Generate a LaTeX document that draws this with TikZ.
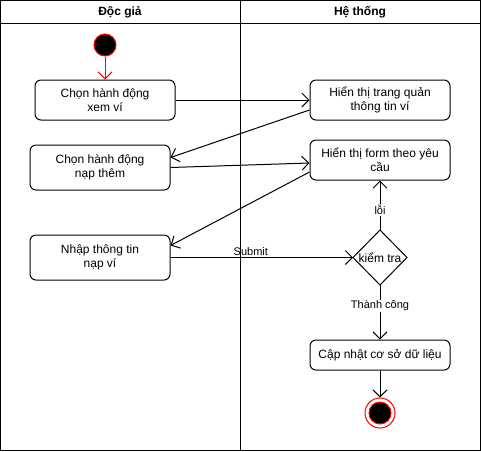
\documentclass[tikz,border=0pt]{standalone}
\usepackage{fontspec}
\setmainfont{Liberation Sans}
\usetikzlibrary{arrows.meta,calc}
\begin{document}
\begin{tikzpicture}[x=1pt,y=-1pt,line width=1pt,
 act/.style={draw, rounded corners=6pt, minimum width=140pt, align=center, font=\fontsize{12}{14}\selectfont, inner sep=0pt},
 flow/.style={-{Straight Barb[length=7pt,width=14pt]}},
 lbl/.style={fill=white, font=\fontsize{11}{13}\selectfont, inner sep=1pt},
 hdr/.style={font=\bfseries\fontsize{12}{14}\selectfont}]
\useasboundingbox (0,0) rectangle (481,451);
\draw (0.5,0.5) rectangle (480.5,450.5);
\draw (0.5,23) -- (480.5,23);
\draw (240.5,0.5) -- (240.5,450.5);
\node[hdr] (h1) at (120,12.5) {Độc giả};
\node[hdr] (h2) at (360,12.5) {Hệ thống};
% start
\node[circle, draw=red, fill=black, minimum size=22pt, inner sep=0pt] (start) at (105,45) {};
% activities
\node[act, minimum height=40pt] (b1) at (105,100) {Chọn hành động\\xem ví};
\node[act, minimum height=40pt] (b2) at (380,100) {Hiển thị trang quản\\thông tin ví};
\node[act, minimum height=45pt] (b3) at (100,167.5) {Chọn hành động\\nạp thêm};
\node[act, minimum height=40pt] (b4) at (380,160) {Hiển thị form theo yêu\\cầu};
\node[act, minimum height=45pt] (b5) at (100,257.5) {Nhập thông tin\\nạp ví};
\node[act, minimum height=30pt] (b6) at (380,355) {Cập nhật cơ sở dữ liệu};
% decision
\coordinate (dtop) at (380,230);
\coordinate (dright) at (407,257.5);
\coordinate (dbot) at (380,285);
\coordinate (dleft) at (353,257.5);
\draw (dtop) -- (dright) -- (dbot) -- (dleft) -- cycle;
\node[font=\fontsize{12}{14}\selectfont] (dec) at (380,257.5) {kiểm tra};
% end
\node[circle, draw=red, fill=white, minimum size=30pt, inner sep=0pt] (end) at (380,413) {};
\node[circle, draw=red, fill=black, minimum size=22pt, inner sep=0pt] (endin) at (380,413) {};
% flows
\draw[flow, draw=red] (start) -- (b1.north);
\draw[flow] (b1.east) -- (b2.west);
\draw[flow] ($(b2.west)+(0,10)$) -- ($(b3.east)+(0,-10)$);
\draw[flow] (b3.east) -- ($(b4.west)+(0,3)$);
\draw[flow] ($(b4.west)+(0,12)$) -- ($(b5.east)+(0,-12)$);
\draw[flow] (b5.east) -- node[pos=0.44, above, font=\fontsize{11}{13}\selectfont, inner sep=1pt] {Submit} (dleft);
\draw[flow] (dtop) -- node[lbl, pos=0.4] {lỗi} (b4.south);
\draw[flow] (dbot) -- node[lbl, pos=0.38] {Thành công} (b6.north);
\draw[flow] (b6.south) -- (end.north);
\end{tikzpicture}
\end{document}
